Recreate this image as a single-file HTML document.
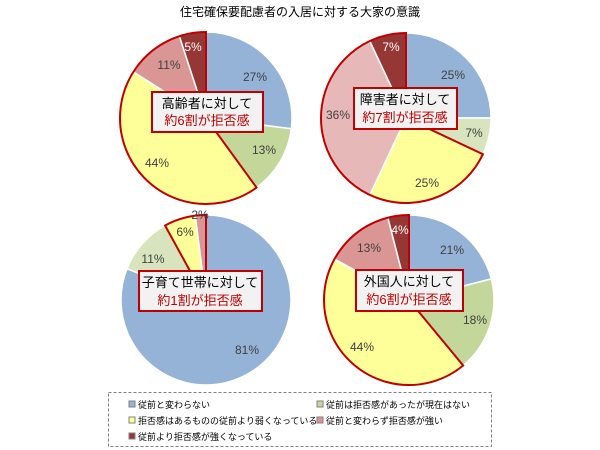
<!DOCTYPE html>
<html><head><meta charset="utf-8"><style>
body{margin:0;background:#fff;width:600px;height:450px;overflow:hidden;font-family:"Liberation Sans","Noto Sans CJK JP",sans-serif}
svg{position:absolute;left:0;top:0}
</style></head><body>
<svg id="s" width="600" height="450" xmlns="http://www.w3.org/2000/svg" font-family="Liberation Sans, Noto Sans CJK JP, sans-serif">
<text x="300" y="16" font-size="12" text-anchor="middle" fill="#000">住宅確保要配慮者の入居に対する大家の意識</text>
<g id="pies"></g>
<g font-size="12" fill="#404040" text-anchor="middle" dominant-baseline="central">
<text x="255" y="77">27%</text><text x="264" y="150">13%</text><text x="157" y="163">44%</text><text x="169" y="65">11%</text><text x="193" y="47" fill="#fff">5%</text>
<text x="453" y="75">25%</text><text x="474" y="133">7%</text><text x="427" y="183">25%</text><text x="338" y="115">36%</text><text x="391" y="47" fill="#fff">7%</text>
<text x="247" y="350">81%</text><text x="153" y="259">11%</text><text x="185" y="232">6%</text><text x="200" y="215">2%</text>
<text x="452" y="250">21%</text><text x="475" y="320">18%</text><text x="362" y="347">44%</text><text x="369" y="248">13%</text><text x="400" y="230" fill="#fff">4%</text>
</g>
<g stroke="#C00000" stroke-width="2" fill="#F2F2F2">
<rect x="152" y="92" width="111" height="40"/><rect x="354" y="88" width="103" height="41"/>
<rect x="139" y="271" width="123" height="40"/><rect x="356" y="270" width="107" height="41"/>
</g>
<g font-size="13" text-anchor="middle">
<text x="207" y="108">高齢者に対して</text><text x="207" y="125" fill="#C00000">約6割が拒否感</text>
<text x="405" y="104">障害者に対して</text><text x="405" y="122" fill="#C00000">約7割が拒否感</text>
<text x="200" y="287">子育て世帯に対して</text><text x="200" y="305" fill="#C00000">約1割が拒否感</text>
<text x="409" y="286">外国人に対して</text><text x="409" y="304" fill="#C00000">約6割が拒否感</text>
</g>
<rect x="108.5" y="392.5" width="383" height="54" fill="none" stroke="#808080" stroke-dasharray="3,2"/>
<g font-size="9" fill="#000">
<rect x="129" y="401" width="6" height="6" fill="#95B3D7" stroke="#808080"/><text x="138" y="408">従前と変わらない</text>
<rect x="317" y="401" width="6" height="6" fill="#C4D79B" stroke="#808080"/><text x="326" y="408">従前は拒否感があったが現在はない</text>
<rect x="129" y="417" width="6" height="6" fill="#FFFF99" stroke="#808080"/><text x="138" y="424">拒否感はあるものの従前より弱くなっている</text>
<rect x="317" y="417" width="6" height="6" fill="#D99694" stroke="#808080"/><text x="326" y="424">従前と変わらず拒否感が強い</text>
<rect x="129" y="433" width="6" height="6" fill="#953735" stroke="#808080"/><text x="138" y="440">従前より拒否感が強くなっている</text>
</g>
</svg>
<script>
var pies=[
 {cx:206,cy:118,r:86,v:[27,13,44,11,5],c:["#95B3D7","#C4D79B","#FFFF99","#D99694","#953735"],g:0.40},
 {cx:406,cy:118,r:85,v:[25,7,25,36,7],c:["#95B3D7","#D7E4BD","#FFFF99","#E6B9B8","#953735"],g:0.32},
 {cx:206,cy:300,r:85,v:[81,11,6,2],c:["#95B3D7","#D7E4BD","#FFFF99","#D99694"],g:0.92},
 {cx:409,cy:300,r:85,v:[21,18,44,13,4],c:["#95B3D7","#C4D79B","#FFFF99","#D99694","#953735"],g:0.39}];
function pt(p,f){var a=f*2*Math.PI-Math.PI/2;return [p.cx+p.r*Math.cos(a),p.cy+p.r*Math.sin(a)];}
var h="";
pies.forEach(function(p){
 var tot=p.v.reduce(function(a,b){return a+b},0),s=0;
 p.v.forEach(function(v,i){var f0=s/tot,f1=(s+v)/tot;s+=v;var a=pt(p,f0),b=pt(p,f1);
  h+='<path d="M'+p.cx+','+p.cy+'L'+a[0]+','+a[1]+'A'+p.r+','+p.r+' 0 '+((f1-f0)>0.5?1:0)+' 1 '+b[0]+','+b[1]+'Z" fill="'+p.c[i]+'" stroke="#fff" stroke-width="1.5"/>';});
 var a=pt(p,p.g),b=pt(p,1);
 h+='<path d="M'+p.cx+','+p.cy+'L'+a[0]+','+a[1]+'A'+p.r+','+p.r+' 0 '+((1-p.g)>0.5?1:0)+' 1 '+b[0]+','+b[1]+'Z" fill="none" stroke="#C00000" stroke-width="2"/>';
});
document.getElementById("pies").innerHTML=h;
</script>
</body></html>
